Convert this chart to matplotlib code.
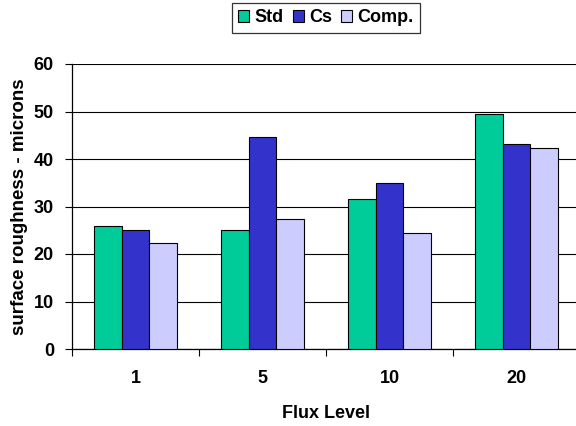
import matplotlib.pyplot as plt
from matplotlib.ticker import FixedLocator
import numpy as np

plt.rcParams['font.family'] = ['Liberation Sans', 'DejaVu Sans']
plt.rcParams['font.weight'] = 'bold'

# Flux levels and measured roughness per surface treatment
flux_levels = ['1', '5', '10', '20']
series_names = ['Std', 'Cs', 'Comp.']
std_vals = [26.0, 25.0, 31.6, 49.4]
cs_vals = [25.0, 44.6, 34.9, 43.1]
comp_vals = [22.4, 27.4, 24.4, 42.4]
colors = ['#00CC99', '#3333CC', '#CCCCFF']

fs = 13

fig = plt.figure(figsize=(5.76, 4.26), dpi=100)
ax = fig.add_axes([72 / 576, 1 - 349 / 426, 508 / 576, 285 / 426])

x = np.arange(len(flux_levels)) + 0.5
w = 0.22
for i, (vals, name, c) in enumerate(zip([std_vals, cs_vals, comp_vals], series_names, colors)):
    ax.bar(x + (i - 1) * w, vals, width=w, color=c, edgecolor='black',
           linewidth=0.8, label=name, zorder=3)

ax.set_xlim(0, len(flux_levels))
ax.set_ylim(0, 60)
ax.set_yticks(range(0, 61, 10))
ax.yaxis.grid(True, color='black', linewidth=0.8, zorder=0)
ax.set_axisbelow(True)

# category labels in the middle, tick marks on the group boundaries
ax.set_xticks(x)
ax.set_xticklabels(flux_levels)
ax.xaxis.set_minor_locator(FixedLocator(np.arange(0, len(flux_levels) + 1)))
ax.tick_params(axis='x', which='major', length=0, pad=15, labelsize=fs)
ax.tick_params(axis='x', which='minor', length=5, width=0.8, direction='out')
ax.tick_params(axis='y', length=5, width=0.8, direction='out', pad=8, labelsize=fs)

for s in ['top', 'right']:
    ax.spines[s].set_visible(False)
for s in ['left', 'bottom']:
    ax.spines[s].set_linewidth(0.9)

ax.set_xlabel('Flux Level', fontsize=fs, fontweight='bold', labelpad=13)
ax.set_ylabel('surface roughness - microns', fontsize=13.5, fontweight='bold', labelpad=4)

leg = fig.legend(loc='upper center', bbox_to_anchor=(326 / 576, 1 - 3 / 426), ncol=3,
                 frameon=True, fancybox=False, edgecolor='black', fontsize=fs,
                 handlelength=0.6, handleheight=0.6, handletextpad=0.3,
                 columnspacing=0.5, borderpad=0.35, borderaxespad=0)
leg.get_frame().set_linewidth(0.9)

fig.savefig('out.png', dpi=100)
